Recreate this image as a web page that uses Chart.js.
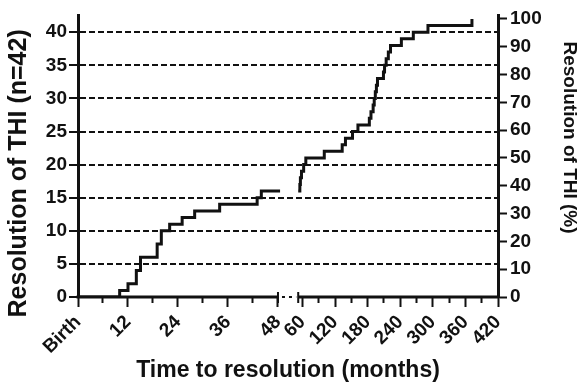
<!DOCTYPE html>
<html>
<head>
<meta charset="utf-8">
<script src="https://cdn.jsdelivr.net/npm/chart.js@4.4.0/dist/chart.umd.min.js"></script>
<style>
  html, body { margin: 0; padding: 0; background: #fff; }
  #wrap { width: 585px; height: 385px; }
</style>
</head>
<body>
<div id="wrap"><canvas id="thi"></canvas></div>
<script>
// cumulative number of resolved THI (n=42), before and after the axis break
const earlyMonths = [0, 10, 12, 14, 15, 19, 20, 22, 25, 28, 34, 43, 44, 48.5]
const earlyCounts = [0, 1, 2, 4, 6, 8, 10, 11, 12, 13, 14, 15, 16, 16]

const lateMonths = [52, 55, 56, 58, 62, 66, 100, 133, 139, 152, 162, 183, 186, 190, 192, 194, 196, 198, 209, 211, 214, 218, 222, 242, 264, 291, 372]
const lateCounts = [16, 17, 18, 19, 20, 21, 22, 23, 24, 25, 26, 27, 28, 29, 30, 31, 32, 33, 34, 35, 36, 37, 38, 39, 40, 41, 42]

const totalCases = 42

const xMajorMonths = [0, 12, 24, 36, 48, 60, 120, 180, 240, 300, 360, 420]
const xMajorLabels = ['Birth', '12', '24', '36', '48', '60', '120', '180', '240', '300', '360', '420']
const xMinorMonths = [6, 18, 30, 42, 90, 150, 210, 270, 330, 390]

const countTicks = [0, 5, 10, 15, 20, 25, 30, 35, 40]
const percentTicks = [0, 10, 20, 30, 40, 50, 60, 70, 80, 90, 100]

// broken time axis: first 4 years at full scale, then 52..420 months squeezed
const breakStart = 48
const breakEnd = 52
const lateOrigin = 53.9   // axis position of month 60
const lateScale = 0.1303  // axis units per month after the break

function toAxis(m) {
  return m < breakEnd ? m : lateOrigin + (m - 60) * lateScale
}

const countMax = 42.6
const ink = '#111'
const family = '"Liberation Sans", Arial, sans-serif'

const xTicks = xMajorMonths.map((m, i) => ({ value: toAxis(m), label: xMajorLabels[i] }))
  .concat(xMinorMonths.map(m => ({ value: toAxis(m), label: '', minor: true })))
  .sort((a, b) => a.value - b.value)

// solid baseline with a dotted gap where the time axis is broken
const brokenBaseline = {
  id: 'brokenBaseline',
  beforeDatasetsDraw(chart) {
    const { ctx, scales: { x, y } } = chart;
    const y0 = y.getPixelForValue(0);
    const a0 = x.getPixelForValue(toAxis(0));
    const a1 = x.getPixelForValue(toAxis(breakStart));
    const b0 = x.getPixelForValue(toAxis(breakEnd));
    const b1 = x.getPixelForValue(toAxis(420));
    ctx.save();
    ctx.strokeStyle = ink;
    ctx.lineWidth = 3;
    ctx.beginPath();
    ctx.moveTo(a0 - 1.5, y0); ctx.lineTo(a1, y0);
    ctx.moveTo(b0, y0); ctx.lineTo(b1 + 1.5, y0);
    ctx.stroke();
    ctx.lineWidth = 2;
    ctx.setLineDash([3, 4]);
    ctx.beginPath();
    ctx.moveTo(a1 + 4, y0); ctx.lineTo(b0 - 2, y0);
    ctx.stroke();
    ctx.setLineDash([]);
    ctx.beginPath();
    for (const px of [a1, b0]) {
      ctx.moveTo(px, y0 - 5); ctx.lineTo(px, y0 + 6);
    }
    ctx.stroke();
    ctx.restore();
  }
}

const lineStyle = {
  borderColor: ink,
  borderWidth: 3,
  stepped: 'before',
  pointRadius: 0,
  fill: false
}

new Chart(document.getElementById('thi'), {
  type: 'line',
  data: {
    datasets: [
      { ...lineStyle, data: earlyMonths.map((m, i) => ({ x: toAxis(m), y: earlyCounts[i] })) },
      { ...lineStyle, data: lateMonths.map((m, i) => ({ x: toAxis(m), y: lateCounts[i] })) }
    ]
  },
  options: {
    responsive: true,
    maintainAspectRatio: false,
    animation: false,
    layout: { padding: { top: 15 } },
    plugins: { legend: { display: false }, tooltip: { enabled: false } },
    scales: {
      x: {
        type: 'linear',
        min: 0,
        max: toAxis(420),
        afterBuildTicks: s => { s.ticks = xTicks.map(t => ({ ...t })) },
        afterFit: s => { s.height = 88 },
        border: { display: false },
        grid: {
          drawOnChartArea: false,
          tickLength: 10,
          tickWidth: 2,
          tickColor: ink,
          tickBorderDash: c => (c.tick && c.tick.minor ? [6, 40] : [])
        },
        ticks: {
          autoSkip: false,
          minRotation: 45,
          maxRotation: 45,
          padding: 4,
          color: ink,
          font: { family, size: 19, weight: 'bold' },
          callback: (v, i) => xTicks[i].label
        },
        title: {
          display: true,
          text: 'Time to resolution (months)',
          color: ink,
          font: { family, size: 23, weight: 'bold' },
          padding: { bottom: 1 }
        }
      },
      y: {
        position: 'left',
        min: 0,
        max: countMax,
        afterBuildTicks: s => { s.ticks = countTicks.map(v => ({ value: v })) },
        afterFit: s => { s.width = 78 },
        border: { color: ink, width: 3, dash: [6, 3] },
        grid: {
          color: ink,
          lineWidth: c => (c.tick && c.tick.value === 0 ? 0 : 2),
          tickLength: 9,
          tickWidth: 2,
          tickColor: ink,
          tickBorderDash: []
        },
        ticks: { color: ink, padding: 2, font: { family, size: 19, weight: 'bold' } },
        title: {
          display: true,
          // trailing spaces push the text a little down, as in the original
          text: 'Resolution of THI (n=42)     ',
          color: ink,
          font: { family, size: 25, weight: 'bold' },
          padding: { top: 4 }
        }
      },
      y2: {
        position: 'right',
        min: 0,
        max: countMax / totalCases * 100,
        afterBuildTicks: s => { s.ticks = percentTicks.map(v => ({ value: v })) },
        afterFit: s => { s.width = 87 },
        border: { color: ink, width: 3 },
        grid: { drawOnChartArea: false, tickLength: 9, tickWidth: 2, tickColor: ink },
        ticks: { color: ink, padding: 3, font: { family, size: 19, weight: 'bold' } },
        title: {
          display: true,
          text: 'Resolution of THI (%)       ',
          color: ink,
          font: { family, size: 19, weight: 'bold' },
          padding: { top: 4 }
        }
      }
    }
  },
  plugins: [brokenBaseline]
})
</script>
</body>
</html>
